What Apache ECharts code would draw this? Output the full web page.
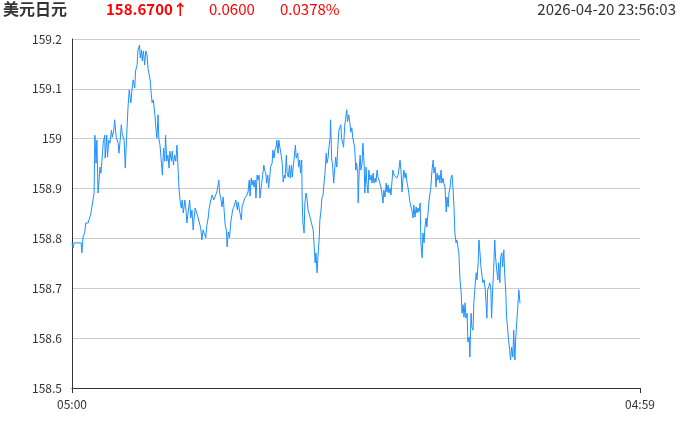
<!DOCTYPE html>
<html><head><meta charset="utf-8">
<script src="https://cdn.jsdelivr.net/npm/echarts@6/dist/echarts.min.js"></script>
<style>html,body{margin:0;padding:0;background:#fff}#c{width:696px;height:422px}</style>
</head><body><div id="c"></div>
<script>
// Header texts
const titleText = '美元日元';
const lastPrice = '158.6700↑';
const change = '0.0600';
const changePct = '0.0378%';
const stamp = '2026-04-20 23:56:03';

// X axis: minutes since 05:00 (full day = 0..1439)
const dayMinutes = [0, 1439];
const dayLabels = ['05:00', '04:59'];

// Y axis
const yMin = 158.5, yMax = 159.2, yStep = 0.1;

// Series: minute offsets and prices
const minutes = [0,3,5,10,15,20,23,25,28,32,35,41,46,48,53,56,58,61,63,66,68,71,73,76,79,83,84,88,90,93,96,100,102,106,108,112,117,119,122,125,127,132,135,138,140,142,145,
149,152,155,159,161,165,167,171,173,176,178,181,184,187,190,193,195,198,201,203,206,210,212,215,218,220,223,226,229,232,235,237,240,243,246,248,252,254,257,260,263,266,269,271,274,277,279,282,286,289,291,295,
298,301,304,307,309,312,316,319,323,326,329,332,335,339,341,345,347,350,353,355,359,362,366,368,372,374,377,380,383,385,388,391,393,396,399,402,405,407,410,413,415,419,421,425,427,429,431,434,438,440,443,446,449,
451,454,456,459,461,464,466,469,471,474,476,480,483,486,488,491,493,496,498,501,503,507,509,512,514,517,519,522,524,527,530,533,535,538,540,543,545,548,551,553,556,558,561,563,566,568,572,574,577,579,582,
583,585,588,590,593,595,598,600,603,606,608,611,613,616,618,621,623,626,628,631,633,636,638,641,644,646,649,651,654,655,658,660,663,666,668,671,673,676,678,681,683,686,688,691,693,696,698,701,704,706,709,711,714,716,719,721,724,725,728,730,
732,735,737,740,742,745,747,750,752,755,758,760,763,765,768,770,773,775,778,780,783,785,788,790,793,796,798,801,803,806,808,811,813,816,818,821,823,826,828,831,834,836,839,841,844,846,849,851,854,856,859,861,864,866,869,872,874,877,879,882,
884,887,889,892,894,897,899,902,904,907,909,912,915,917,920,922,925,927,930,932,935,937,940,942,945,948,950,953,955,958,960,963,965,968,970,973,975,978,980,983,986,988,991,993,996,998,1001,1003,1006,1008,
1011,1013,1016,1018,1021,1024,1026,1029,1031,1034,1036,1039,1041,1044,1047,1049,1051,1053,1056,1058,1061,1063,1066,1068,1071,1073,1076,1079,1081,1084,1086,1089,1091,1094,1096,1099,1101,1104,1106,1109,1111,1114,1117,1119,1122,1124,1127,1129,1132,1135];

const prices = [158.791,158.781,158.791,158.791,158.791,158.791,158.791,158.771,158.803,158.811,158.831,158.831,158.831,158.851,158.851,158.891,159.007,158.951,158.997,158.891,158.891,158.943,158.931,158.957,158.991,159.007,158.961,159.007,158.963,158.997,158.991,159.017,159.003,159.017,159.038,159.003,158.991,158.971,158.997,159.028,159.011,158.997,158.941,158.997,159.032,159.064,159.098,
159.072,159.098,159.118,159.102,159.136,159.148,159.176,159.188,159.162,159.178,159.156,159.176,159.148,159.176,159.168,159.138,159.136,159.118,159.088,159.072,159.078,159.048,159.026,159.001,159.048,159.001,158.987,158.987,158.927,158.981,158.955,159.007,158.955,158.967,158.941,158.975,158.955,158.975,158.947,158.967,158.955,158.987,158.935,158.901,158.875,158.861,158.877,158.851,158.877,158.855,158.831,158.857,
158.877,158.841,158.857,158.817,158.837,158.861,158.857,158.843,158.841,158.821,158.797,158.817,158.813,158.801,158.823,158.841,158.857,158.871,158.881,158.887,158.877,158.881,158.891,158.897,158.917,158.891,158.881,158.863,158.883,158.861,158.827,158.817,158.783,158.813,158.801,158.831,158.833,158.857,158.863,158.871,158.877,158.857,158.873,158.853,158.857,158.837,158.863,158.871,158.881,158.877,158.887,158.893,158.917,
158.885,158.921,158.907,158.917,158.903,158.917,158.881,158.927,158.917,158.927,158.881,158.883,158.927,158.947,158.937,158.931,158.911,158.927,158.901,158.923,158.943,158.951,158.977,158.961,158.977,158.983,158.997,158.971,158.997,158.981,158.967,158.947,158.913,158.927,158.921,158.967,158.931,158.923,158.947,158.921,158.947,158.923,158.947,158.963,158.987,158.961,158.971,158.943,158.957,158.931,158.957,
158.883,158.831,158.811,158.871,158.891,158.883,158.857,158.857,158.843,158.847,158.841,158.817,158.791,158.751,158.771,158.731,158.763,158.797,158.837,158.857,158.881,158.887,158.907,158.931,158.971,158.951,158.963,158.983,159.003,159.038,158.957,158.951,158.911,158.943,158.963,158.943,158.977,159.017,159.013,159.028,159.001,158.991,158.983,159.028,159.038,159.058,159.034,159.048,159.032,159.013,159.022,159.003,158.991,158.983,158.937,158.951,158.931,158.871,158.943,158.967,
158.937,158.951,158.991,158.951,158.891,158.943,158.911,158.891,158.937,158.917,158.927,158.911,158.931,158.911,158.921,158.913,158.937,158.923,158.917,158.921,158.901,158.891,158.871,158.897,158.883,158.911,158.893,158.907,158.891,158.901,158.887,158.917,158.937,158.927,158.923,158.931,158.921,158.927,158.937,158.957,158.931,158.893,158.923,158.937,158.921,158.931,158.911,158.903,158.887,158.873,158.863,158.857,158.841,158.867,158.843,158.863,158.851,158.861,158.853,158.871,
158.791,158.761,158.811,158.791,158.821,158.841,158.823,158.851,158.871,158.891,158.901,158.937,158.957,158.931,158.943,158.903,158.931,158.917,158.927,158.911,158.937,158.911,158.921,158.911,158.903,158.853,158.883,158.863,158.891,158.903,158.921,158.927,158.903,158.861,158.811,158.791,158.797,158.801,158.771,158.717,158.691,158.650,158.667,158.642,158.671,158.640,158.650,158.592,158.602,158.562,
158.650,158.622,158.616,158.671,158.703,158.731,158.717,158.751,158.797,158.767,158.743,158.723,158.711,158.717,158.697,158.671,158.640,158.697,158.703,158.711,158.701,158.640,158.703,158.731,158.797,158.763,158.737,158.717,158.751,158.711,158.763,158.771,158.743,158.777,158.731,158.691,158.642,158.616,158.596,158.576,158.556,158.582,158.562,158.616,158.556,158.596,158.636,158.657,158.697,158.670];

const seriesData = minutes.map((m, i) => [m, prices[i]]);

const chart = echarts.init(document.getElementById('c'), null, {renderer: 'canvas'});
const FONT = '"Microsoft YaHei","Noto Sans CJK SC","Noto Sans",sans-serif';
chart.setOption({
  animation: false,
  backgroundColor: '#fff',
  textStyle: {fontFamily: FONT},
  graphic: [
    {type: 'text', left: 3, top: 1, style: {text: titleText, font: 'bold 16px ' + FONT, fill: '#333'}},
    {type: 'text', left: 106, top: 2, style: {text: lastPrice, font: 'bold 15px ' + FONT, fill: '#f00'}},
    {type: 'text', left: 209, top: 2, style: {text: change, font: '15px ' + FONT, fill: '#f00'}},
    {type: 'text', left: 280, top: 2, style: {text: changePct, font: '15px ' + FONT, fill: '#f00'}},
    {type: 'text', right: 20, top: 2, style: {text: stamp, font: '15px ' + FONT, fill: '#333'}}
  ],
  grid: {left: 72, right: 56, top: 39, bottom: 34, containLabel: false},
  xAxis: {
    type: 'value', min: dayMinutes[0], max: dayMinutes[dayMinutes.length - 1],
    axisLine: {show: true, lineStyle: {color: '#333', width: 1}},
    axisTick: {show: true, customValues: dayMinutes, length: 5, lineStyle: {color: '#333'}},
    axisLabel: {customValues: dayMinutes, color: '#333', fontSize: 12, margin: 10,
      formatter: v => dayLabels[dayMinutes.indexOf(v)] || ''},
    splitLine: {show: false}
  },
  yAxis: {
    type: 'value', min: yMin, max: yMax, interval: yStep,
    axisLine: {show: true, lineStyle: {color: '#333', width: 1}},
    axisTick: {show: false},
    axisLabel: {color: '#333', fontSize: 12, margin: 10},
    splitLine: {show: true, lineStyle: {color: '#ccc', width: 1}}
  },
  series: [{
    type: 'line', data: seriesData, showSymbol: false, symbol: 'none', smooth: false,
    lineStyle: {color: '#1e90ff', width: 1}, itemStyle: {color: '#1e90ff'}
  }]
});
</script></body></html>
